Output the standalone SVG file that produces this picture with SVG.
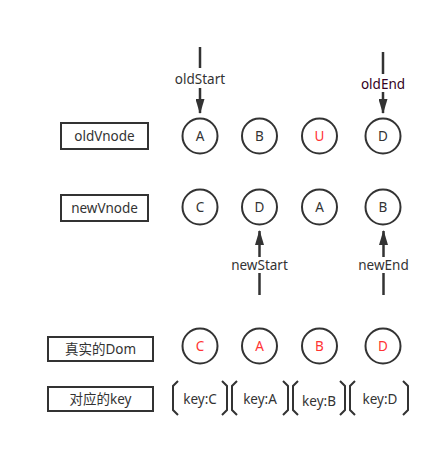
<svg xmlns="http://www.w3.org/2000/svg" width="441" height="449" viewBox="0 0 441 449">
<style>
text{font-family:"Noto Sans","Noto Sans CJK SC",sans-serif;font-size:13.5px;fill:#333;text-anchor:middle;dominant-baseline:central}
.box{fill:#fff;stroke:#333;stroke-width:2}
.c{fill:#fff;stroke:#333;stroke-width:2}
.red{fill:#ff3333}
.ln{stroke:#333;stroke-width:2.5;fill:none}
.br{stroke:#333;stroke-width:2;fill:none}
</style>
<defs>
<marker id="ah" viewBox="0 0 15 9" refX="14" refY="4.5" markerWidth="15" markerHeight="9" markerUnits="userSpaceOnUse" orient="auto">
<path d="M0,0 L15,4.5 L0,9 z" fill="#333"/>
</marker>
</defs>
<rect width="441" height="449" fill="#fff"/>
<g id="labels">
<g id="oldVnode"><rect class="box" x="61" y="123" width="87" height="26"/><text x="104.5" y="136">oldVnode</text></g>
<g id="newVnode"><rect class="box" x="61" y="195" width="87" height="26"/><text x="104.5" y="208">newVnode</text></g>
<g id="realDom"><rect class="box" x="48" y="337" width="105" height="24"/><text x="100.5" y="349">真实的Dom</text></g>
<g id="keyLabel"><rect class="box" x="48" y="387" width="105" height="24"/><text x="100.5" y="399">对应的key</text></g>
</g>
<g id="old-row">
<g id="old-A"><circle class="c" cx="200" cy="136" r="17.5"/><text x="200" y="136">A</text></g>
<g id="old-B"><circle class="c" cx="259.5" cy="136" r="17.5"/><text x="259.5" y="136">B</text></g>
<g id="old-U"><circle class="c" cx="319.5" cy="136" r="17.5"/><text class="red" x="319.5" y="136">U</text></g>
<g id="old-D"><circle class="c" cx="383" cy="136" r="17.5"/><text x="383" y="136">D</text></g>
</g>
<g id="new-row">
<g id="new-C"><circle class="c" cx="200" cy="207" r="17.5"/><text x="200" y="207">C</text></g>
<g id="new-D"><circle class="c" cx="259.5" cy="207" r="17.5"/><text x="259.5" y="207">D</text></g>
<g id="new-A"><circle class="c" cx="319.5" cy="207" r="17.5"/><text x="319.5" y="207">A</text></g>
<g id="new-B"><circle class="c" cx="383" cy="207" r="17.5"/><text x="383" y="207">B</text></g>
</g>
<g id="dom-row">
<g id="dom-C"><circle class="c" cx="200" cy="346" r="17.5"/><text class="red" x="200" y="346">C</text></g>
<g id="dom-A"><circle class="c" cx="259.5" cy="346" r="17.5"/><text class="red" x="259.5" y="346">A</text></g>
<g id="dom-B"><circle class="c" cx="319.5" cy="346" r="17.5"/><text class="red" x="319.5" y="346">B</text></g>
<g id="dom-D"><circle class="c" cx="383" cy="346" r="17.5"/><text class="red" x="383" y="346">D</text></g>
</g>
<g id="key-row">
<g id="key-C"><path class="br" d="M178,381 L173,386 L173,410 L178,415 M222,381 L227,386 L227,410 L222,415"/><text x="200" y="399">key:C</text></g>
<g id="key-A"><path class="br" d="M237,381 L232,386 L232,410 L237,415 M283,381 L288,386 L288,410 L283,415"/><text x="260" y="399">key:A</text></g>
<g id="key-B"><path class="br" d="M298,381 L293,386 L293,410 L298,415 M340,381 L345,386 L345,410 L340,415"/><text x="319" y="401">key:B</text></g>
<g id="key-D"><path class="br" d="M355,381 L350,386 L350,410 L355,415 M403,381 L408,386 L408,410 L403,415"/><text x="380" y="399">key:D</text></g>
</g>
<g id="connectors">
<line class="ln" x1="200" y1="47" x2="200" y2="68"/>
<line class="ln" x1="200" y1="88" x2="200" y2="113" marker-end="url(#ah)"/>
<text x="200" y="79">oldStart</text>
<line class="ln" x1="383" y1="52" x2="383" y2="74"/>
<line class="ln" x1="383" y1="92" x2="383" y2="113" marker-end="url(#ah)"/>
<text x="383" y="84" style="fill:#330022">oldEnd</text>
<line class="ln" x1="259.5" y1="295" x2="259.5" y2="273"/>
<line class="ln" x1="259.5" y1="257" x2="259.5" y2="231" marker-end="url(#ah)"/>
<text x="259.5" y="265">newStart</text>
<line class="ln" x1="383.5" y1="295" x2="383.5" y2="273"/>
<line class="ln" x1="383.5" y1="257" x2="383.5" y2="231" marker-end="url(#ah)"/>
<text x="383.5" y="265">newEnd</text>
</g>
</svg>
